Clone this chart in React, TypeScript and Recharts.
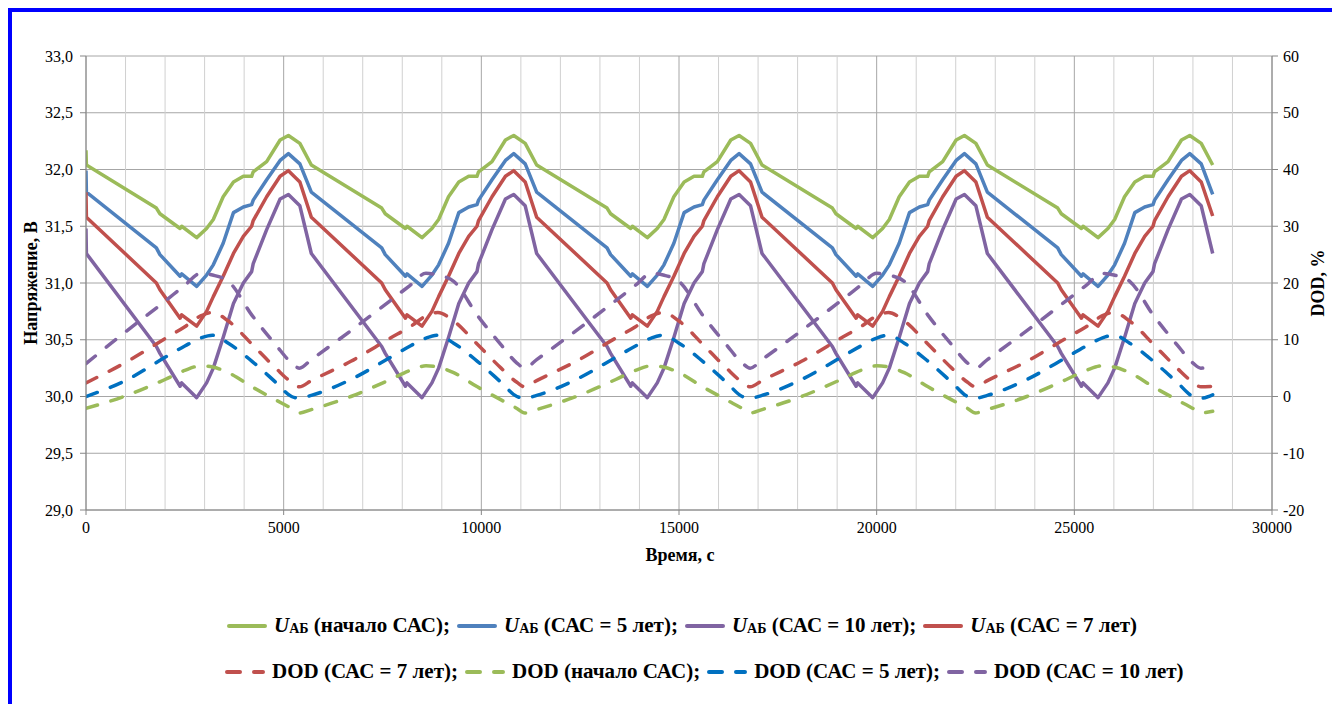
import React from "react"
import {
  CartesianGrid,
  Line,
  LineChart,
  ReferenceLine,
  XAxis,
  YAxis,
} from "recharts"

// время, с (общая сетка для кривых напряжения)
const T_U = [
  0, 10, 1780, 1870, 2380, 2420, 2800, 3050, 3220, 3470, 3730, 3980, 4190, 4230, 4570, 4910, 5120, 5410,
  5700, 7480, 7570, 8080, 8120, 8500, 8750, 8920, 9170, 9430, 9680, 9890, 9930, 10270, 10610, 10820, 11110,
  11400, 13180, 13270, 13780, 13820, 14200, 14450, 14620, 14870, 15130, 15380, 15590, 15630, 15970, 16310, 16520, 16810,
  17100, 18880, 18970, 19480, 19520, 19900, 20150, 20320, 20570, 20830, 21080, 21290, 21330, 21670, 22010, 22220, 22510,
  22800, 24580, 24670, 25180, 25220, 25600, 25850, 26020, 26270, 26530, 26780, 26990, 27030, 27370, 27710, 27920, 28210,
  28500,
]

const U_START = [
  32.17, 32.04, 31.66, 31.61, 31.48, 31.5, 31.4, 31.48, 31.56, 31.76, 31.89, 31.94, 31.94, 31.98, 32.07, 32.26, 32.3, 32.23,
  32.04, 31.66, 31.61, 31.48, 31.5, 31.4, 31.48, 31.56, 31.76, 31.89, 31.94, 31.94, 31.98, 32.07, 32.26, 32.3, 32.23,
  32.04, 31.66, 31.61, 31.48, 31.5, 31.4, 31.48, 31.56, 31.76, 31.89, 31.94, 31.94, 31.98, 32.07, 32.26, 32.3, 32.23,
  32.04, 31.66, 31.61, 31.48, 31.5, 31.4, 31.48, 31.56, 31.76, 31.89, 31.94, 31.94, 31.98, 32.07, 32.26, 32.3, 32.23,
  32.04, 31.66, 31.61, 31.48, 31.5, 31.4, 31.48, 31.56, 31.76, 31.89, 31.94, 31.94, 31.98, 32.07, 32.26, 32.3, 32.23,
  32.04,
]

const U_5 = [
  31.99, 31.8, 31.31, 31.25, 31.06, 31.08, 30.97, 31.07, 31.16, 31.35, 31.62, 31.67, 31.69, 31.73, 31.91, 32.08, 32.14, 32.05,
  31.8, 31.31, 31.25, 31.06, 31.08, 30.97, 31.07, 31.16, 31.35, 31.62, 31.67, 31.69, 31.73, 31.91, 32.08, 32.14, 32.05,
  31.8, 31.31, 31.25, 31.06, 31.08, 30.97, 31.07, 31.16, 31.35, 31.62, 31.67, 31.69, 31.73, 31.91, 32.08, 32.14, 32.05,
  31.8, 31.31, 31.25, 31.06, 31.08, 30.97, 31.07, 31.16, 31.35, 31.62, 31.67, 31.69, 31.73, 31.91, 32.08, 32.14, 32.05,
  31.8, 31.31, 31.25, 31.06, 31.08, 30.97, 31.07, 31.16, 31.35, 31.62, 31.67, 31.69, 31.73, 31.91, 32.08, 32.14, 32.05,
  31.78,
]

const U_7 = [
  31.8, 31.58, 31.0, 30.94, 30.69, 30.72, 30.62, 30.75, 30.88, 31.06, 31.26, 31.41, 31.5, 31.55, 31.76, 31.94, 31.99, 31.89,
  31.58, 31.0, 30.94, 30.69, 30.72, 30.62, 30.75, 30.88, 31.06, 31.26, 31.41, 31.5, 31.55, 31.76, 31.94, 31.99, 31.89,
  31.58, 31.0, 30.94, 30.69, 30.72, 30.62, 30.75, 30.88, 31.06, 31.26, 31.41, 31.5, 31.55, 31.76, 31.94, 31.99, 31.89,
  31.58, 31.0, 30.94, 30.69, 30.72, 30.62, 30.75, 30.88, 31.06, 31.26, 31.41, 31.5, 31.55, 31.76, 31.94, 31.99, 31.89,
  31.58, 31.0, 30.94, 30.69, 30.72, 30.62, 30.75, 30.88, 31.06, 31.26, 31.41, 31.5, 31.55, 31.76, 31.94, 31.99, 31.89,
  31.59,
]

const U_10 = [
  31.48, 31.26, 30.44, 30.38, 30.09, 30.12, 29.99, 30.12, 30.25, 30.52, 30.82, 31.0, 31.1, 31.17, 31.47, 31.74, 31.78, 31.68,
  31.26, 30.44, 30.38, 30.09, 30.12, 29.99, 30.12, 30.25, 30.52, 30.82, 31.0, 31.1, 31.17, 31.47, 31.74, 31.78, 31.68,
  31.26, 30.44, 30.38, 30.09, 30.12, 29.99, 30.12, 30.25, 30.52, 30.82, 31.0, 31.1, 31.17, 31.47, 31.74, 31.78, 31.68,
  31.26, 30.44, 30.38, 30.09, 30.12, 29.99, 30.12, 30.25, 30.52, 30.82, 31.0, 31.1, 31.17, 31.47, 31.74, 31.78, 31.68,
  31.26, 30.44, 30.38, 30.09, 30.12, 29.99, 30.12, 30.25, 30.52, 30.82, 31.0, 31.1, 31.17, 31.47, 31.74, 31.78, 31.68,
  31.26,
]

// время, с (сетка для DOD)
const T_DOD = [
  0, 1000, 2000, 2500, 2900, 3200, 3600, 4200, 4800, 5200, 5400,
  5700, 6700, 7700, 8200, 8600, 8900, 9300, 9900, 10500, 10900, 11100,
  11400, 12400, 13400, 13900, 14300, 14600, 15000, 15600, 16200, 16600, 16800,
  17100, 18100, 19100, 19600, 20000, 20300, 20700, 21300, 21900, 22300, 22500,
  22800, 23800, 24800, 25300, 25700, 26000, 26400, 27000, 27600, 28000, 28200,
  28500,
]

const DOD_7 = [
  2.4, 6.0, 10.2, 12.3, 14.2, 14.8, 13.3, 9.2, 5.0, 2.5, 1.7,
  2.8, 6.2, 10.3, 12.3, 14.2, 14.8, 13.3, 9.2, 5.0, 2.5, 1.7,
  2.8, 6.2, 10.3, 12.3, 14.2, 14.8, 13.3, 9.2, 5.0, 2.5, 1.7,
  2.8, 6.2, 10.3, 12.3, 14.2, 14.8, 13.3, 9.2, 5.0, 2.5, 1.7,
  2.8, 6.2, 10.3, 12.3, 14.2, 14.8, 13.3, 9.2, 5.0, 2.5, 1.7,
  1.8,
]

const DOD_START = [
  -2.1, 0.1, 3.0, 4.6, 5.4, 5.2, 4.2, 1.7, -0.6, -2.1, -2.9,
  -2.3, 0.0, 3.0, 4.6, 5.4, 5.2, 4.2, 1.7, -0.6, -2.1, -2.9,
  -2.3, 0.0, 3.0, 4.6, 5.4, 5.2, 4.2, 1.7, -0.6, -2.1, -2.9,
  -2.3, 0.0, 3.0, 4.6, 5.4, 5.2, 4.2, 1.7, -0.6, -2.1, -2.9,
  -2.3, 0.0, 3.0, 4.6, 5.4, 5.2, 4.2, 1.7, -0.6, -2.1, -2.9,
  -2.6,
]

const DOD_5 = [
  0.0, 2.8, 6.9, 8.9, 10.3, 10.8, 9.4, 6.2, 2.5, 0.0, -0.3,
  0.2, 3.0, 6.9, 8.9, 10.3, 10.8, 9.4, 6.2, 2.5, 0.0, -0.3,
  0.2, 3.0, 6.9, 8.9, 10.3, 10.8, 9.4, 6.2, 2.5, 0.0, -0.3,
  0.2, 3.0, 6.9, 8.9, 10.3, 10.8, 9.4, 6.2, 2.5, 0.0, -0.3,
  0.2, 3.0, 6.9, 8.9, 10.3, 10.8, 9.4, 6.2, 2.5, 0.0, -0.3,
  0.3,
]

const DOD_10 = [
  5.8, 11.4, 16.8, 19.6, 21.7, 21.4, 20.3, 14.3, 9.1, 5.9, 5.0,
  6.5, 11.6, 16.9, 19.6, 21.7, 21.4, 20.3, 14.3, 9.1, 5.9, 5.0,
  6.5, 11.6, 16.9, 19.6, 21.7, 21.4, 20.3, 14.3, 9.1, 5.9, 5.0,
  6.5, 11.6, 16.9, 19.6, 21.7, 21.4, 20.3, 14.3, 9.1, 5.9, 5.0,
  6.5, 11.6, 16.9, 19.6, 21.7, 21.4, 20.3, 14.3, 9.1, 5.9, 5.0,
  5.3,
]

const X_TICKS = [0, 5000, 10000, 15000, 20000, 25000, 30000]
const X_MINOR = [
  1000, 2000, 3000, 4000, 6000, 7000, 8000, 9000, 11000, 12000, 13000, 14000,
  16000, 17000, 18000, 19000, 21000, 22000, 23000, 24000, 26000, 27000, 28000, 29000,
]
const U_TICKS = [29, 29.5, 30, 30.5, 31, 31.5, 32, 32.5, 33]
const DOD_TICKS = [-20, -10, 0, 10, 20, 30, 40, 50, 60]

const SERIF = '"Times New Roman", "Liberation Serif", Tinos, serif'
const GREEN = "#9bbb59"
const BLUE = "#4f81bd"
const RED = "#c0504d"
const PURPLE = "#8064a2"
const BRIGHT_BLUE = "#0070c0"

const toPoints = (ts: number[], vs: number[]) => ts.map((t, i) => ({ t, v: vs[i] }))

const uSeries = [
  { name: "начало САС", color: GREEN, values: U_START },
  { name: "САС = 5 лет", color: BLUE, values: U_5 },
  { name: "САС = 10 лет", color: PURPLE, values: U_10 },
  { name: "САС = 7 лет", color: RED, values: U_7 },
]

const dodSeries = [
  { name: "САС = 7 лет", color: RED, values: DOD_7 },
  { name: "начало САС", color: GREEN, values: DOD_START },
  { name: "САС = 5 лет", color: BRIGHT_BLUE, values: DOD_5 },
  { name: "САС = 10 лет", color: PURPLE, values: DOD_10 },
]

const tickStyle = { fontSize: 16, fill: "#000" }

function LegendLine({ color, dashed }: { color: string; dashed?: boolean }) {
  return (
    <svg width={42} height={12} style={{ marginRight: 6 }}>
      <line
        x1={3}
        y1={6}
        x2={39}
        y2={6}
        stroke={color}
        strokeWidth={4}
        strokeLinecap="round"
        strokeDasharray={dashed ? "13 14" : undefined}
      />
    </svg>
  )
}

function ULabel({ text }: { text: string }) {
  return (
    <span>
      <i>U</i>
      <span style={{ fontSize: 14, position: "relative", top: 1 }}>АБ</span> ({text})
    </span>
  )
}

export default function App() {
  const legendText = {
    fontWeight: 700,
    fontSize: 21,
    color: "#000",
    whiteSpace: "nowrap" as const,
  }

  return (
    <div
      style={{
        position: "fixed",
        left: 0,
        top: 0,
        width: 1332,
        height: 704,
        background: "#fff",
        overflow: "hidden",
        fontFamily: SERIF,
      }}
    >
      <style>{`.recharts-wrapper text { font-family: ${SERIF}; }`}</style>
      <div
        style={{
          position: "absolute",
          left: 8,
          top: 8,
          width: 1400,
          height: 800,
          borderTop: "4px solid #0000ff",
          borderLeft: "4px solid #0000ff",
        }}
      />
      <div style={{ position: "absolute", left: 0, top: 0 }}>
        <LineChart
          width={1332}
          height={600}
          margin={{ top: 56, right: 10, bottom: 60, left: 26 }}
        >
          <CartesianGrid yAxisId="left" stroke="#a6a6a6" strokeWidth={1} />
          {X_MINOR.map((x) => (
            <ReferenceLine key={x} x={x} yAxisId="left" stroke="#d0d0d0" strokeWidth={1} />
          ))}
          <XAxis
            dataKey="t"
            type="number"
            domain={[0, 30000]}
            ticks={X_TICKS}
            allowDataOverflow
            height={30}
            tickSize={5}
            tickMargin={7}
            stroke="#868686"
            tick={tickStyle}
          />
          <YAxis
            yAxisId="left"
            dataKey="v"
            type="number"
            domain={[29, 33]}
            ticks={U_TICKS}
            allowDataOverflow
            width={60}
            tickSize={6}
            tickMargin={7}
            stroke="#868686"
            tick={tickStyle}
            tickFormatter={(v: number) => v.toFixed(1).replace(".", ",")}
          />
          <YAxis
            yAxisId="right"
            orientation="right"
            dataKey="v"
            type="number"
            domain={[-20, 60]}
            ticks={DOD_TICKS}
            allowDataOverflow
            width={50}
            tickSize={6}
            tickMargin={5}
            stroke="#868686"
            tick={tickStyle}
          />
          {uSeries.map((s) => (
            <Line
              key={"u" + s.name}
              yAxisId="left"
              data={toPoints(T_U, s.values)}
              dataKey="v"
              type="linear"
              stroke={s.color}
              strokeWidth={3.5}
              strokeLinejoin="round"
              dot={false}
              activeDot={false}
              isAnimationActive={false}
            />
          ))}
          {dodSeries.map((s) => (
            <Line
              key={"d" + s.name}
              yAxisId="right"
              data={toPoints(T_DOD, s.values)}
              dataKey="v"
              type="monotone"
              stroke={s.color}
              strokeWidth={3.5}
              strokeDasharray="12 14"
              strokeLinecap="round"
              dot={false}
              activeDot={false}
              isAnimationActive={false}
            />
          ))}
        </LineChart>
      </div>

      {/* подписи осей */}
      <div
        style={{
          position: "absolute",
          left: 31,
          top: 283,
          transform: "translate(-50%, -50%) rotate(-90deg)",
          fontWeight: 700,
          fontSize: 18,
          whiteSpace: "nowrap",
        }}
      >
        Напряжение, В
      </div>
      <div
        style={{
          position: "absolute",
          left: 1318,
          top: 283,
          transform: "translate(-50%, -50%) rotate(-90deg)",
          fontWeight: 700,
          fontSize: 18,
          whiteSpace: "nowrap",
        }}
      >
        DOD, %
      </div>
      <div
        style={{
          position: "absolute",
          left: 680,
          top: 555,
          transform: "translate(-50%, -50%)",
          fontWeight: 700,
          fontSize: 18,
          whiteSpace: "nowrap",
        }}
      >
        Время, с
      </div>

      {/* легенда */}
      <div
        style={{
          position: "absolute",
          left: 226,
          top: 613,
          display: "flex",
          alignItems: "center",
          ...legendText,
        }}
      >
        {uSeries.map((s, i) => (
          <span key={s.name} style={{ display: "flex", alignItems: "center", marginRight: 6 }}>
            <LegendLine color={s.color} />
            <ULabel text={s.name} />
            {i < uSeries.length - 1 ? ";" : ""}
          </span>
        ))}
      </div>
      <div
        style={{
          position: "absolute",
          left: 224,
          top: 659,
          display: "flex",
          alignItems: "center",
          ...legendText,
        }}
      >
        {dodSeries.map((s, i) => (
          <span key={s.name} style={{ display: "flex", alignItems: "center", marginRight: 6 }}>
            <LegendLine color={s.color} dashed />
            <span>
              DOD ({s.name}){i < dodSeries.length - 1 ? ";" : ""}
            </span>
          </span>
        ))}
      </div>
    </div>
  )
}
